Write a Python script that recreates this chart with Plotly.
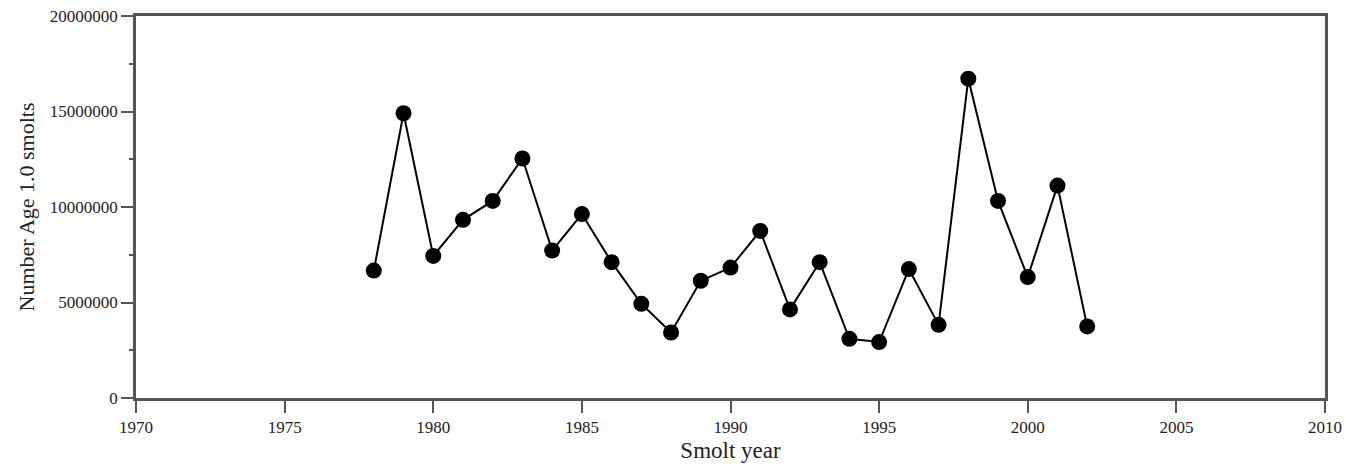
import plotly.graph_objects as go

years = list(range(1978, 2003))
smolts = [6670000, 14910000, 7440000, 9330000, 10320000, 12540000, 7720000,
          9630000, 7110000, 4930000, 3430000, 6140000, 6830000, 8750000,
          4640000, 7110000, 3100000, 2930000, 6750000, 3830000, 16720000,
          10320000, 6330000, 11120000, 3750000]

x_ticks = [1970, 1975, 1980, 1985, 1990, 1995, 2000, 2005, 2010]
y_ticks = [0, 5000000, 10000000, 15000000, 20000000]

font_family = "Liberation Serif, Times New Roman, serif"
axis_color = "#555555"

fig = go.Figure()
fig.add_trace(go.Scatter(
    x=years, y=smolts, mode="lines+markers",
    line=dict(color="black", width=2),
    marker=dict(color="black", size=16, symbol="circle"),
    showlegend=False,
))

fig.update_layout(
    width=1346, height=468,
    margin=dict(l=136, r=21, t=16, b=70),
    paper_bgcolor="white", plot_bgcolor="white",
    font=dict(family=font_family, color="#222222", size=17),
)
fig.update_xaxes(
    range=[1970, 2010], tickvals=x_ticks, ticktext=[str(v) for v in x_ticks],
    ticks="outside", ticklen=12, tickwidth=1.5, tickcolor=axis_color,
    showline=True, linecolor=axis_color, linewidth=2.5, mirror=True,
    showgrid=False, zeroline=False, automargin=False,
    ticklabeloverflow="allow",
    title=dict(text="Smolt year", font=dict(size=23, family=font_family), standoff=6),
    tickfont=dict(size=17, family=font_family),
)
fig.update_yaxes(
    range=[0, 20000000], tickvals=y_ticks, ticktext=[str(v) for v in y_ticks],
    ticks="outside", ticklen=12, tickwidth=1.5, tickcolor=axis_color,
    minor=dict(ticks="outside", ticklen=4, tickwidth=1.5, tickcolor=axis_color, dtick=2500000),
    showline=True, linecolor=axis_color, linewidth=2.5, mirror=True,
    showgrid=False, zeroline=False, automargin=False,
    ticklabeloverflow="allow",
    title=dict(text="Number Age 1.0 smolts", font=dict(size=22, family=font_family), standoff=10),
    tickfont=dict(size=17, family=font_family),
)

fig.write_html(
    "out.html",
    config={"displayModeBar": False},
    post_script="document.body.style.margin='0';document.body.style.overflow='hidden';",
)
